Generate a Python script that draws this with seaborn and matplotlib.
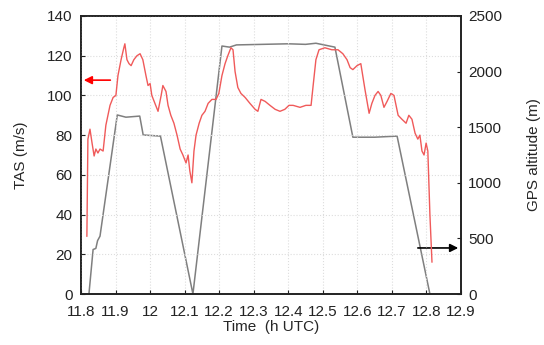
import matplotlib
matplotlib.use("Agg")
import matplotlib.pyplot as plt
import seaborn as sns
import pandas as pd

# TAS (m/s) series, left axis
tas_time = [11.817, 11.820, 11.826, 11.832, 11.838, 11.843, 11.849, 11.855, 11.864, 11.872,
            11.884, 11.893, 11.901, 11.907, 11.916, 11.924, 11.927, 11.933, 11.939, 11.945,
            11.953, 11.962, 11.971, 11.979, 11.988, 11.994, 12.000, 12.005, 12.014, 12.023,
            12.032, 12.037, 12.046, 12.052, 12.060, 12.069, 12.078, 12.087, 12.095, 12.104,
            12.110, 12.115, 12.121, 12.127, 12.133, 12.142, 12.150, 12.159, 12.168, 12.179,
            12.191, 12.199, 12.208, 12.217, 12.225, 12.234, 12.240, 12.246, 12.254, 12.263,
            12.275, 12.289, 12.304, 12.312, 12.321, 12.333, 12.347, 12.362, 12.376, 12.390,
            12.402, 12.414, 12.434, 12.451, 12.466, 12.472, 12.480, 12.489, 12.506, 12.526,
            12.544, 12.558, 12.570, 12.579, 12.587, 12.599, 12.610, 12.622, 12.634, 12.642,
            12.651, 12.660, 12.668, 12.677, 12.686, 12.697, 12.706, 12.718, 12.729, 12.741,
            12.749, 12.758, 12.767, 12.775, 12.781, 12.787, 12.793, 12.799, 12.804, 12.810,
            12.816]
tas_value = [29, 78, 83, 76, 69.5, 73, 71, 73, 72, 85,
             95, 99, 100, 110, 118, 124, 126, 118, 116, 115,
             118, 120, 121, 118, 110, 105, 106, 100, 96, 92,
             100, 105, 102, 95, 90, 86, 80, 73, 70, 66,
             70, 62, 56, 72, 80, 86, 90, 92, 96, 98,
             98, 101, 110, 116, 120, 124, 123, 112, 104, 101,
             99, 96, 93, 92, 98, 97, 95, 93, 92, 93,
             95, 95, 94, 95, 95, 105, 118, 123, 124, 123,
             123, 121, 118, 114, 113, 115, 116, 103, 91, 96,
             100, 102, 100, 94, 97, 101, 100, 90, 88, 86,
             90, 88, 81, 78, 80, 72, 70, 76, 72, 40,
             16]

# GPS altitude (m) series, right axis
alt_time = [11.823, 11.835, 11.843, 11.848, 11.855, 11.905, 11.930, 11.970, 11.980, 12.030,
            12.124, 12.208, 12.230, 12.250, 12.400, 12.450, 12.480, 12.535, 12.587, 12.650,
            12.715, 12.810]
alt_value = [0, 400, 410, 480, 520, 1610, 1590, 1600, 1430, 1420,
             0, 2230, 2220, 2240, 2250, 2245, 2255, 2220, 1410, 1410,
             1420, 0]

x_ticks = [11.8, 11.9, 12.0, 12.1, 12.2, 12.3, 12.4, 12.5, 12.6, 12.7, 12.8, 12.9]
x_tick_labels = ["11.8", "11.9", "12", "12.1", "12.2", "12.3", "12.4", "12.5", "12.6", "12.7", "12.8", "12.9"]
left_ticks = [0, 20, 40, 60, 80, 100, 120, 140]
right_ticks = [0, 500, 1000, 1500, 2000, 2500]

sns.set_style("ticks")
plt.rcParams["font.family"] = ["Liberation Sans", "DejaVu Sans"]
plt.rcParams["font.size"] = 11

tas_df = pd.DataFrame({"t": tas_time, "v": tas_value})
alt_df = pd.DataFrame({"t": alt_time, "v": alt_value})

fig = plt.figure(figsize=(5.44, 3.45), dpi=100)
ax = fig.add_axes([81 / 544, 51 / 345, 380 / 544, 278 / 345])
ax2 = ax.twinx()

sns.lineplot(data=alt_df, x="t", y="v", ax=ax2, color="#7f7f7f", linewidth=1.1)
sns.lineplot(data=tas_df, x="t", y="v", ax=ax, color="#f05a5a", linewidth=1.0)
ax.set_zorder(ax2.get_zorder() + 1)
ax.patch.set_visible(False)

ax.set_xlim(11.8, 12.9)
ax.set_ylim(0, 140)
ax2.set_ylim(0, 2500)
ax.set_xticks(x_ticks)
ax.set_xticklabels(x_tick_labels)
ax.set_yticks(left_ticks)
ax2.set_yticks(right_ticks)

ax.grid(True, color="#dddddd", linestyle=":", linewidth=0.8)
ax2.grid(False)

for a in (ax, ax2):
    a.tick_params(direction="in", length=3, width=0.8, labelsize=11, colors="#222222")
    for s in a.spines.values():
        s.set_color("#222222")
        s.set_linewidth(1.2)
ax.tick_params(axis="x", pad=8)
ax.tick_params(axis="y", pad=6)
ax2.tick_params(axis="y", pad=5)

ax.set_xlabel("Time  (h UTC)", fontsize=11, labelpad=1)
ax.set_ylabel("TAS (m/s)", fontsize=11, labelpad=14)
ax2.set_ylabel("GPS altitude (m)", fontsize=11, labelpad=18)

ax.annotate("", xy=(11.8, 107.7), xytext=(11.893, 107.7),
            arrowprops=dict(arrowstyle="-|>", color="red", lw=1.2, mutation_scale=12))
ax2.annotate("", xy=(12.9, 414), xytext=(12.767, 414),
             arrowprops=dict(arrowstyle="-|>", color="black", lw=1.2, mutation_scale=12))

fig.savefig("out.png", dpi=100)
